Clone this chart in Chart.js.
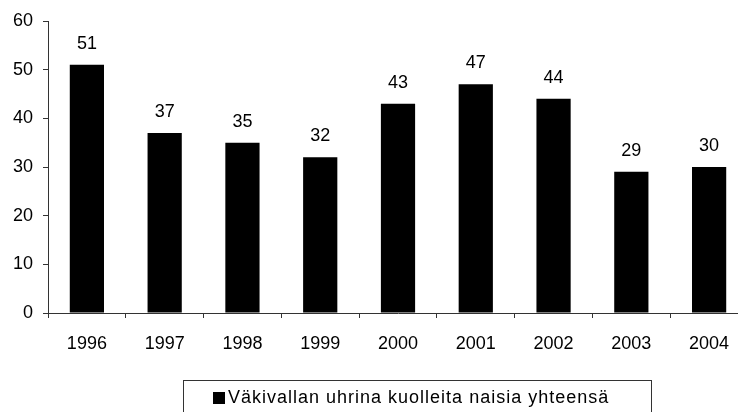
<!DOCTYPE html>
<html>
<head>
<meta charset="utf-8">
<script src="https://cdn.jsdelivr.net/npm/chart.js@4/dist/chart.umd.min.js"></script>
<style>
  html, body { margin: 0; padding: 0; background: #fff; overflow: hidden; }
  #wrap { width: 750px; height: 412px; }
</style>
</head>
<body>
<div id="wrap"><canvas id="chart" width="750" height="412"></canvas></div>
<script>
// data
const years = ["1996", "1997", "1998", "1999", "2000", "2001", "2002", "2003", "2004"];
const victims = [51, 37, 35, 32, 43, 47, 44, 29, 30];
const seriesLabel = "Väkivallan uhrina kuolleita naisia yhteensä";
const yTicks = [0, 10, 20, 30, 40, 50, 60];

const FONT = "'Liberation Sans', Arial, sans-serif";

// value labels above the bars
const valueLabels = {
    id: "valueLabels",
    afterDatasetsDraw(chart) {
        const ctx = chart.ctx;
        const meta = chart.getDatasetMeta(0);
        ctx.save();
        ctx.font = "18px " + FONT;
        ctx.fillStyle = "#000";
        ctx.textAlign = "center";
        ctx.textBaseline = "middle";
        meta.data.forEach((bar, i) => {
            ctx.fillText(String(victims[i]), bar.x, bar.y - 21);
        });
        ctx.restore();
    }
};

// boxed legend under the axis
const boxLegend = {
    id: "boxLegend",
    afterDraw(chart) {
        const ctx = chart.ctx;
        const ds = chart.data.datasets[0];
        ctx.save();
        ctx.strokeStyle = "#333";
        ctx.lineWidth = 1;
        ctx.strokeRect(183.5, 380.5, 468, 40);
        ctx.fillStyle = ds.backgroundColor;
        ctx.fillRect(213, 392, 12, 12);
        ctx.font = "18px " + FONT;
        ctx.letterSpacing = "1px";
        ctx.fillStyle = "#000";
        ctx.textAlign = "left";
        ctx.textBaseline = "middle";
        ctx.fillText(ds.label, 228, 398);
        ctx.restore();
    }
};

new Chart(document.getElementById("chart"), {
    type: "bar",
    data: {
        labels: years,
        datasets: [{
            label: seriesLabel,
            data: victims,
            backgroundColor: "#000",
            borderColor: "#222",
            borderWidth: 0,
            barPercentage: 0.44,
            categoryPercentage: 1.0
        }]
    },
    options: {
        responsive: false,
        animation: false,
        layout: { padding: { top: 21, right: 2, left: 0, bottom: 0 } },
        plugins: {
            legend: { display: false },
            tooltip: { enabled: false }
        },
        scales: {
            x: {
                grid: { drawOnChartArea: false, drawTicks: true, tickLength: 5, color: "#333", offset: true },
                border: { color: "#333", width: 1 },
                ticks: { color: "#000", font: { family: FONT, size: 18 }, padding: 15, maxRotation: 0 },
                afterFit(scale) { scale.height = 99; }
            },
            y: {
                min: 0,
                max: 60,
                afterBuildTicks(scale) { scale.ticks = yTicks.map(v => ({ value: v })); },
                grid: { drawOnChartArea: false, drawTicks: true, tickLength: 5, color: "#333" },
                border: { color: "#333", width: 1 },
                ticks: { color: "#000", font: { family: FONT, size: 18 }, padding: 10 },
                afterFit(scale) { scale.width = 48; }
            }
        }
    },
    plugins: [valueLabels, boxLegend]
});
</script>
</body>
</html>
